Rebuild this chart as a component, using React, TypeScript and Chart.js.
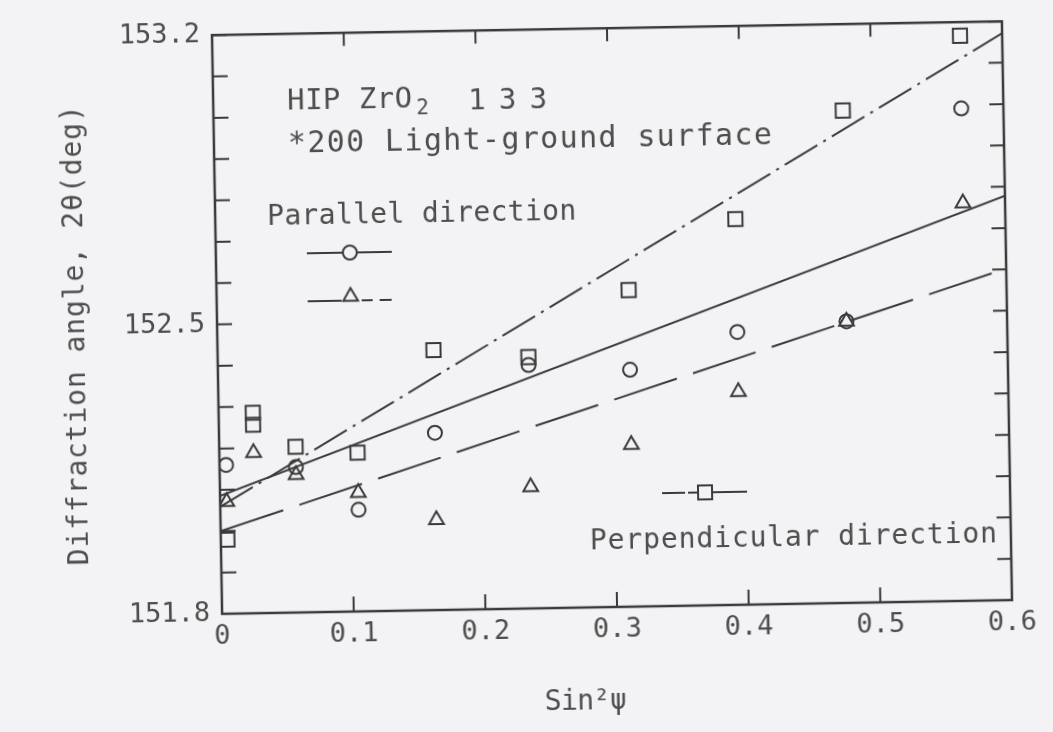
import React, { useEffect, useRef } from 'react';
import { Chart, registerables } from 'chart.js';

Chart.register(...registerables);

// ---------------- data ----------------
const xMin = 0;
const xMax = 0.6;
const xStep = 0.1;
const yMin = 151.8;
const yMax = 153.2;
const yStep = 0.1;
const yLabelledTicks = [151.8, 152.5, 153.2];

// Parallel direction, circles (solid fit line)
const circleX = [0.005, 0.058, 0.105, 0.164, 0.236, 0.313, 0.395, 0.478, 0.568];
const circleY = [152.16, 152.152, 152.046, 152.229, 152.389, 152.373, 152.46, 152.481, 152.991];

// Parallel direction, triangles (dashed fit line)
const triangleX = [0.005, 0.026, 0.058, 0.105, 0.164, 0.236, 0.313, 0.395, 0.478, 0.568];
const triangleY = [152.071, 152.188, 152.133, 152.087, 152.018, 152.094, 152.192, 152.315, 152.481, 152.762];

// Perpendicular direction, squares (dash-dot fit line)
const squareX = [0.005, 0.026, 0.026, 0.058, 0.105, 0.164, 0.236, 0.313, 0.395, 0.478, 0.568];
const squareY = [151.979, 152.285, 152.256, 152.201, 152.184, 152.429, 152.408, 152.566, 152.733, 152.991, 153.167];

// Fitted straight lines (values at sin²ψ = 0 and 0.6)
const fitX = [0, 0.6];
const circleFitY = [152.085, 152.778];
const triangleFitY = [152.0, 152.602];
const squareFitY = [152.059, 153.171];

const titleLines = ['HIP ZrO', '2', '1 3 3', '*200 Light-ground surface'];
const parallelLabel = 'Parallel direction';
const perpendicularLabel = 'Perpendicular direction';
const yTitle = 'Diffraction angle, 2θ(deg)';
const xTitle = 'Sin²ψ';

// ---------------- styles ----------------
const BG = '#f3f3f5';
const INK = '#3a3a3a';
const TEXT = '#4d4d4d';
const MONO = '"DejaVu Sans Mono", "Liberation Mono", monospace';

function drawSpaced(ctx: CanvasRenderingContext2D, text: string, x: number, y: number, size: number, width?: number) {
  ctx.save();
  ctx.font = `${size}px ${MONO}`;
  ctx.fillStyle = TEXT;
  ctx.textAlign = 'left';
  ctx.textBaseline = 'alphabetic';
  (ctx as any).letterSpacing = '0px';
  if (width && text.length > 1) {
    const w = ctx.measureText(text).width;
    (ctx as any).letterSpacing = ((width - w) / (text.length - 1)).toFixed(2) + 'px';
  }
  ctx.fillText(text, x, y);
  ctx.restore();
}

function tri(ctx: CanvasRenderingContext2D, x: number, y: number, r: number) {
  ctx.beginPath();
  for (let i = 0; i < 3; i++) {
    const a = -Math.PI / 2 + (i * 2 * Math.PI) / 3;
    const px = x + Math.cos(a) * r;
    const py = y + Math.sin(a) * r;
    if (i === 0) ctx.moveTo(px, py);
    else ctx.lineTo(px, py);
  }
  ctx.closePath();
  ctx.stroke();
}

const framePlugin = {
  id: 'frameAndNotes',
  beforeDraw(chart: any) {
    const { ctx, width, height } = chart;
    ctx.save();
    ctx.fillStyle = BG;
    ctx.fillRect(0, 0, width, height);
    ctx.restore();
  },
  afterDraw(chart: any) {
    const { ctx, chartArea: a, scales } = chart;
    const xs = scales.x;
    const ys = scales.y;
    ctx.save();
    ctx.strokeStyle = INK;
    ctx.lineWidth = 2.5;
    ctx.strokeRect(a.left, a.top, a.right - a.left, a.bottom - a.top);
    ctx.lineWidth = 2;
    ctx.beginPath();
    ys.ticks.forEach((t: any) => {
      const p = ys.getPixelForValue(t.value);
      ctx.moveTo(a.left, p);
      ctx.lineTo(a.left + 15, p);
      ctx.moveTo(a.right, p);
      ctx.lineTo(a.right - 14, p);
    });
    xs.ticks.forEach((t: any) => {
      const p = xs.getPixelForValue(t.value);
      ctx.moveTo(p, a.bottom);
      ctx.lineTo(p, a.bottom - 15);
      ctx.moveTo(p, a.top);
      ctx.lineTo(p, a.top + 13);
    });
    ctx.stroke();

    // annotation text
    drawSpaced(ctx, titleLines[0], 291, 104, 29, 125);
    drawSpaced(ctx, titleLines[1], 420, 111, 21);
    drawSpaced(ctx, titleLines[2], 472, 107, 29, 79);
    drawSpaced(ctx, titleLines[3], 291, 147, 30, 484);
    drawSpaced(ctx, parallelLabel, 269, 219, 28, 309);
    drawSpaced(ctx, perpendicularLabel, 586, 549, 28, 407);

    // axis titles
    ctx.save();
    ctx.translate(84, 326);
    ctx.rotate(-Math.PI / 2);
    drawSpaced(ctx, yTitle, -230, 0, 28, 460);
    ctx.restore();
    drawSpaced(ctx, xTitle, 538, 709, 28, 82);

    // legend glyphs
    ctx.strokeStyle = INK;
    ctx.lineWidth = 2;
    // solid with circle
    ctx.beginPath();
    ctx.moveTo(308, 248);
    ctx.lineTo(344, 248);
    ctx.moveTo(358, 248);
    ctx.lineTo(393, 248);
    ctx.stroke();
    ctx.beginPath();
    ctx.arc(351, 248, 7, 0, Math.PI * 2);
    ctx.stroke();
    // dashed with triangle
    ctx.beginPath();
    ctx.moveTo(308, 296);
    ctx.lineTo(342, 296);
    ctx.moveTo(362, 296);
    ctx.lineTo(373, 296);
    ctx.moveTo(380, 296);
    ctx.lineTo(392, 296);
    ctx.stroke();
    tri(ctx, 351, 292, 8.5);
    // perpendicular with square
    ctx.beginPath();
    ctx.moveTo(659, 494);
    ctx.lineTo(682, 494);
    ctx.moveTo(685, 494);
    ctx.lineTo(695, 494);
    ctx.moveTo(709, 494);
    ctx.lineTo(744, 494);
    ctx.stroke();
    ctx.strokeRect(695, 487, 14, 14);
    ctx.restore();
  },
};

const toPts = (xs: number[], ys: number[]) => xs.map((x, i) => ({ x, y: ys[i] }));

export default function App() {
  const ref = useRef<HTMLCanvasElement | null>(null);

  useEffect(() => {
    if (!ref.current) return;
    const markerBase = {
      showLine: false,
      borderColor: INK,
      backgroundColor: 'rgba(0,0,0,0)',
      pointBorderColor: INK,
      pointBackgroundColor: 'rgba(0,0,0,0)',
      pointBorderWidth: 2,
    };
    const lineBase = {
      showLine: true,
      borderColor: INK,
      borderWidth: 2,
      pointRadius: 0,
      fill: false,
      tension: 0,
    };
    const chart = new Chart(ref.current, {
      type: 'scatter',
      data: {
        datasets: [
          { ...lineBase, label: 'Parallel (○) fit', data: toPts(fitX, circleFitY) },
          { ...lineBase, label: 'Parallel (△) fit', data: toPts(fitX, triangleFitY), borderDash: [66, 17] },
          { ...lineBase, label: 'Perpendicular (□) fit', data: toPts(fitX, squareFitY), borderDash: [38, 7, 3, 7] },
          { ...markerBase, label: 'Parallel ○', data: toPts(circleX, circleY), pointStyle: 'circle', pointRadius: 7 },
          { ...markerBase, label: 'Parallel △', data: toPts(triangleX, triangleY), pointStyle: 'triangle', pointRadius: 8.5 },
          { ...markerBase, label: 'Perpendicular □', data: toPts(squareX, squareY), pointStyle: 'rect', pointRadius: 10 },
        ] as any,
      },
      options: {
        animation: false,
        responsive: false,
        maintainAspectRatio: false,
        events: [],
        layout: { padding: { left: 0, top: 28, right: 46, bottom: 0 } },
        plugins: {
          legend: { display: false },
          tooltip: { enabled: false },
          title: { display: false },
        },
        scales: {
          x: {
            type: 'linear',
            min: xMin,
            max: xMax,
            afterFit: (s: any) => {
              s.height = 125;
            },
            grid: { display: false, drawTicks: false },
            border: { display: false },
            ticks: {
              stepSize: xStep,
              autoSkip: false,
              maxRotation: 0,
              padding: 7,
              color: TEXT,
              font: { family: MONO, size: 27 },
              callback: (v: any) => (Math.abs(Number(v)) < 1e-9 ? '0' : Number(v).toFixed(1)),
            },
          },
          y: {
            type: 'linear',
            min: yMin,
            max: yMax,
            afterFit: (s: any) => {
              s.width = 217;
            },
            grid: { display: false, drawTicks: false },
            border: { display: false },
            ticks: {
              stepSize: yStep,
              autoSkip: false,
              padding: 12,
              color: TEXT,
              font: { family: MONO, size: 27 },
              callback: (v: any) => {
                const r = Math.round(Number(v) * 10) / 10;
                return yLabelledTicks.some((t) => Math.abs(t - r) < 1e-6) ? r.toFixed(1) : '';
              },
            },
          },
        },
      } as any,
      plugins: [framePlugin as any],
    });
    return () => chart.destroy();
  }, []);

  return (
    <div
      style={{
        position: 'fixed',
        left: 0,
        top: 0,
        width: 1053,
        height: 732,
        background: BG,
        overflow: 'hidden',
      }}
    >
      <canvas
        ref={ref}
        width={1053}
        height={732}
        style={{
          display: 'block',
          width: 1053,
          height: 732,
          transform: 'rotate(-1deg)',
          transformOrigin: '611.5px 317.5px',
        }}
      />
    </div>
  );
}
